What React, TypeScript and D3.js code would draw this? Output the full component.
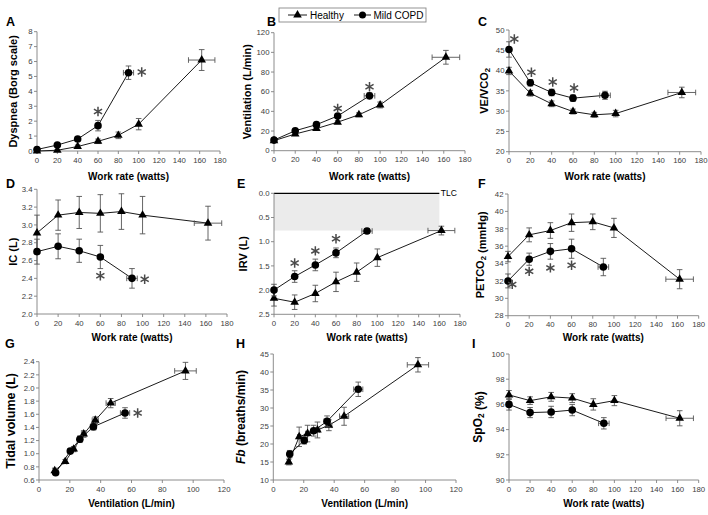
import React from "react";
import * as d3 from "d3";

// ---------------- Data ----------------
const workRateHealthy = [0, 20, 40, 60, 80, 100, 162];
const workRateHealthyErr = [0, 0, 0, 0, 0, 0, 13];
const workRateCOPD = [0, 20, 40, 60, 90];
const workRateCOPDErr = [0, 0, 0, 0, 5];

const workRateTicks = [0, 20, 40, 60, 80, 100, 120, 140, 160, 180];
const ventilationTicks = [0, 20, 40, 60, 80, 100, 120];

// A: Dyspnea (Borg)
const dyspneaTicks = [0, 1, 2, 3, 4, 5, 6, 7, 8];
const dyspneaHealthy = [0, 0.05, 0.3, 0.65, 1.05, 1.8, 6.1];
const dyspneaHealthyErr = [0.05, 0.05, 0.1, 0.15, 0.22, 0.38, 0.7];
const dyspneaCOPD = [0.1, 0.4, 0.8, 1.7, 5.25];
const dyspneaCOPDErr = [0.1, 0.1, 0.15, 0.35, 0.45];
const dyspneaStars: [number, number][] = [[60, 2.65], [103, 5.3]];

// B: Ventilation
const ventTicks = [0, 20, 40, 60, 80, 100, 120];
const ventHealthy = [10.2, 17, 22.5, 29, 36.5, 46.5, 95];
const ventHealthyErr = [1, 1, 1.3, 1.5, 2, 3, 7];
const ventCOPD = [10.8, 20.3, 26.5, 35.3, 55.8];
const ventCOPDErr = [1, 1.2, 1.5, 2, 3];
const ventStars: [number, number][] = [[60, 43], [90, 65]];

// C: VE/VCO2
const vecoTicks = [20, 25, 30, 35, 40, 45, 50];
const vecoHealthy = [39.9, 34.4, 31.8, 29.9, 29.1, 29.4, 34.6];
const vecoHealthyErr = [0.9, 0.7, 0.7, 0.6, 0.6, 0.8, 1.3];
const vecoCOPD = [45.2, 37.0, 34.6, 33.2, 33.9];
const vecoCOPDErr = [1.9, 0.8, 0.8, 0.8, 1.0];
const vecoStars: [number, number][] = [[5, 47.8], [21, 39.6], [41, 37.2], [61, 35.7]];

// D: IC
const icTicks = [2.0, 2.2, 2.4, 2.6, 2.8, 3.0, 3.2, 3.4];
const icHealthy = [2.91, 3.11, 3.14, 3.13, 3.15, 3.11, 3.02];
const icHealthyErr = [0.2, 0.17, 0.18, 0.21, 0.2, 0.21, 0.19];
const icCOPD = [2.7, 2.76, 2.71, 2.64, 2.4];
const icCOPDErr = [0.14, 0.14, 0.13, 0.13, 0.11];
const icStars: [number, number][] = [[60, 2.43], [102, 2.39]];

// E: IRV
const irvTicks = [0.0, 0.5, 1.0, 1.5, 2.0, 2.5];
const irvHealthy = [2.17, 2.25, 2.07, 1.83, 1.63, 1.33, 0.77];
const irvHealthyErr = [0.16, 0.15, 0.17, 0.2, 0.19, 0.18, 0.09];
const irvCOPD = [2.0, 1.72, 1.48, 1.23, 0.78];
const irvCOPDErr = [0.12, 0.12, 0.12, 0.1, 0.05];
const irvStars: [number, number][] = [[20, 1.44], [40, 1.19], [60, 0.94]];
const tlcValue = 0;
const tlcShadeBottom = 0.77;
const tlcEnd = 160;

// F: PETCO2
const petTicks = [28, 30, 32, 34, 36, 38, 40, 42];
const petHealthy = [34.8, 37.3, 37.8, 38.7, 38.8, 38.1, 32.2];
const petHealthyErr = [0.6, 0.8, 0.9, 1.0, 0.9, 1.1, 1.1];
const petCOPD = [32.0, 34.5, 35.4, 35.7, 33.6];
const petCOPDErr = [0.8, 0.7, 0.9, 1.1, 1.0];
const petStars: [number, number][] = [[4, 31.6], [20, 33.1], [40, 33.5], [60, 33.8]];

// G: Tidal volume vs ventilation
const vtTicks = [0.6, 0.8, 1.0, 1.2, 1.4, 1.6, 1.8, 2.0, 2.2, 2.4];
const vtHealthy = [0.74, 0.88, 1.07, 1.3, 1.51, 1.77, 2.26];
const vtHealthyErr = [0.04, 0.03, 0.04, 0.05, 0.05, 0.07, 0.13];
const vtCOPD = [0.71, 1.04, 1.22, 1.41, 1.62];
const vtCOPDErr = [0.03, 0.04, 0.05, 0.05, 0.08];
const vtStars: [number, number][] = [[64, 1.62]];

// H: Breathing frequency vs ventilation
const fbTicks = [10, 15, 20, 25, 30, 35, 40, 45];
const fbHealthy = [15.0, 22.0, 22.9, 23.9, 25.2, 27.7, 42.0];
const fbHealthyErr = [0.8, 2.7, 2.3, 2.2, 1.5, 2.5, 2.0];
const fbCOPD = [17.2, 21.0, 23.7, 26.3, 35.2];
const fbCOPDErr = [1.0, 1.0, 1.5, 1.5, 2.0];

// I: SpO2
const spoTicks = [90, 92, 94, 96, 98, 100];
const spoHealthy = [96.75, 96.3, 96.6, 96.5, 96.0, 96.3, 94.9];
const spoHealthyErr = [0.35, 0.3, 0.35, 0.35, 0.45, 0.4, 0.6];
const spoCOPD = [96.0, 95.35, 95.4, 95.55, 94.5];
const spoCOPDErr = [0.45, 0.4, 0.45, 0.45, 0.45];

// ---------------- Rendering ----------------
type SeriesData = { x: number[]; y: number[]; ex: number[]; ey: number[] };

const FONT = "'Liberation Sans', Arial, sans-serif";
const AXIS_COLOR = "#808080";
const TICK_TEXT = "#404040";
const ERR_COLOR = "#555";
const TICK_FONT = 7.8;

const triPath = d3.symbol(d3.symbolTriangle, 32)()!;
const starPath = d3.symbol(d3.symbolAsterisk, 62)()!;

function Series({
  data,
  xs,
  ys,
  shape,
}: {
  data: SeriesData;
  xs: d3.ScaleLinear<number, number>;
  ys: d3.ScaleLinear<number, number>;
  shape: "tri" | "circle";
}) {
  const pts = data.x.map((xv, i) => ({ x: xs(xv), y: ys(data.y[i]), i }));
  const line = d3
    .line<{ x: number; y: number }>()
    .x((d) => d.x)
    .y((d) => d.y);
  const cap = 2.8;
  return (
    <g>
      <path d={line(pts)!} fill="none" stroke="#000" strokeWidth={0.9} />
      {pts.map((p) => {
        const ey = data.ey[p.i];
        const ex = data.ex[p.i];
        const y1 = ys(data.y[p.i] + ey);
        const y2 = ys(data.y[p.i] - ey);
        const x1 = xs(data.x[p.i] - ex);
        const x2 = xs(data.x[p.i] + ex);
        return (
          <g key={p.i} stroke={ERR_COLOR} strokeWidth={0.9}>
            {ey > 0 && (
              <>
                <line x1={p.x} x2={p.x} y1={y1} y2={y2} />
                <line x1={p.x - cap} x2={p.x + cap} y1={y1} y2={y1} />
                <line x1={p.x - cap} x2={p.x + cap} y1={y2} y2={y2} />
              </>
            )}
            {ex > 0 && (
              <>
                <line x1={x1} x2={x2} y1={p.y} y2={p.y} />
                <line x1={x1} x2={x1} y1={p.y - cap} y2={p.y + cap} />
                <line x1={x2} x2={x2} y1={p.y - cap} y2={p.y + cap} />
              </>
            )}
          </g>
        );
      })}
      {pts.map((p) =>
        shape === "circle" ? (
          <circle key={"m" + p.i} cx={p.x} cy={p.y} r={3.8} fill="#000" />
        ) : (
          <path key={"m" + p.i} d={triPath} transform={`translate(${p.x},${p.y})`} fill="#000" />
        )
      )}
    </g>
  );
}

interface PanelProps {
  letter: string;
  letterPos: [number, number];
  xDomain: [number, number];
  xRange: [number, number];
  yDomain: [number, number];
  yRange: [number, number];
  xTicks: number[];
  yTicks: number[];
  yFormat: (v: number) => string;
  xTitle: string;
  xTitleY: number;
  yTitle: React.ReactNode;
  yTitleX: number;
  yTitleSize: number;
  healthy: SeriesData;
  copd: SeriesData;
  stars?: [number, number][];
  extra?: (xs: d3.ScaleLinear<number, number>, ys: d3.ScaleLinear<number, number>) => React.ReactNode;
}

function Panel(p: PanelProps) {
  const xs = d3.scaleLinear().domain(p.xDomain).range(p.xRange);
  const ys = d3.scaleLinear().domain(p.yDomain).range(p.yRange);
  const top = Math.min(...p.yRange);
  const bottom = Math.max(...p.yRange);
  const x0 = p.xRange[0];
  const cx = (p.xRange[0] + p.xRange[1]) / 2;
  const cy = (top + bottom) / 2;
  return (
    <g>
      <text x={p.letterPos[0]} y={p.letterPos[1]} fontSize={12.5} fontWeight="bold" fill="#000">
        {p.letter}
      </text>
      {p.extra && p.extra(xs, ys)}
      <line x1={x0} x2={x0} y1={top} y2={bottom} stroke={AXIS_COLOR} strokeWidth={0.9} />
      <line x1={x0} x2={p.xRange[1]} y1={bottom} y2={bottom} stroke={AXIS_COLOR} strokeWidth={0.9} />
      {p.yTicks.map((t) => (
        <g key={"y" + t}>
          <line x1={x0 - 3} x2={x0} y1={ys(t)} y2={ys(t)} stroke={AXIS_COLOR} strokeWidth={0.9} />
          <text x={x0 - 4.5} y={ys(t)} dy="0.35em" textAnchor="end" fontSize={TICK_FONT} fill={TICK_TEXT}>
            {p.yFormat(t)}
          </text>
        </g>
      ))}
      {p.xTicks.map((t) => (
        <g key={"x" + t}>
          <line x1={xs(t)} x2={xs(t)} y1={bottom} y2={bottom + 3} stroke={AXIS_COLOR} strokeWidth={0.9} />
          <text x={xs(t)} y={bottom + 11.5} textAnchor="middle" fontSize={TICK_FONT} fill={TICK_TEXT}>
            {t}
          </text>
        </g>
      ))}
      <text x={cx} y={p.xTitleY} textAnchor="middle" fontSize={10} fontWeight="bold" fill="#000">
        {p.xTitle}
      </text>
      <text
        transform={`translate(${p.yTitleX},${cy}) rotate(-90)`}
        textAnchor="middle"
        dy="0.35em"
        fontSize={p.yTitleSize}
        fontWeight="bold"
        fill="#000"
      >
        {p.yTitle}
      </text>
      <Series data={p.healthy} xs={xs} ys={ys} shape="tri" />
      <Series data={p.copd} xs={xs} ys={ys} shape="circle" />
      {(p.stars || []).map((s, i) => (
        <path
          key={"s" + i}
          d={starPath}
          transform={`translate(${xs(s[0])},${ys(s[1])})`}
          stroke="#4a4a4a"
          strokeWidth={1.5}
          fill="none"
        />
      ))}
    </g>
  );
}

const f0 = d3.format("d");
const f1 = d3.format(".1f");

const H = (y: number[], ey: number[]): SeriesData => ({ x: workRateHealthy, y, ex: workRateHealthyErr, ey });
const C = (y: number[], ey: number[]): SeriesData => ({ x: workRateCOPD, y, ex: workRateCOPDErr, ey });
const HV = (y: number[], ey: number[]): SeriesData => ({ x: ventHealthy, y, ex: ventHealthyErr, ey });
const CV = (y: number[], ey: number[]): SeriesData => ({ x: ventCOPD, y, ex: ventCOPDErr, ey });

const sub = (s: string) => (
  <tspan fontSize="0.7em" dy="0.25em">
    {s}
  </tspan>
);

export default function App() {
  const WR = "Work rate (watts)";
  const VL = "Ventilation (L/min)";
  return (
    <svg
      width={708}
      height={515}
      style={{ position: "absolute", left: 0, top: 0, background: "#fff" }}
      fontFamily={FONT}
    >
      <rect width={708} height={515} fill="#fff" />
      <g>
        <rect x={279} y={8} width={147} height={14} fill="#fff" stroke="#888" strokeWidth={0.9} />
        <line x1={288} x2={307} y1={15} y2={15} stroke="#000" strokeWidth={0.9} />
        <path d={triPath} transform="translate(297.5,15)" fill="#000" />
        <text x={310} y={18.6} fontSize={10} fill="#000">
          Healthy
        </text>
        <line x1={354} x2={371} y1={15} y2={15} stroke="#000" strokeWidth={0.9} />
        <circle cx={362.5} cy={15} r={3.5} fill="#000" />
        <text x={373.5} y={18.6} fontSize={10} fill="#000">
          Mild COPD
        </text>
      </g>

      <Panel
        letter="A" letterPos={[6, 26]}
        xDomain={[0, 180]} xRange={[37, 220]}
        yDomain={[0, 8]} yRange={[151, 31.7]}
        xTicks={workRateTicks} yTicks={dyspneaTicks} yFormat={f0}
        xTitle={WR} xTitleY={180}
        yTitle="Dyspnea (Borg scale)" yTitleX={13} yTitleSize={11}
        healthy={H(dyspneaHealthy, dyspneaHealthyErr)}
        copd={C(dyspneaCOPD, dyspneaCOPDErr)}
        stars={dyspneaStars}
      />
      <Panel
        letter="B" letterPos={[267, 26]}
        xDomain={[0, 180]} xRange={[274, 465]}
        yDomain={[0, 120]} yRange={[150.7, 32.7]}
        xTicks={workRateTicks} yTicks={ventTicks} yFormat={f0}
        xTitle={WR} xTitleY={180}
        yTitle={VL} yTitleX={247} yTitleSize={11}
        healthy={H(ventHealthy, ventHealthyErr)}
        copd={C(ventCOPD, ventCOPDErr)}
        stars={ventStars}
      />
      <Panel
        letter="C" letterPos={[478, 26]}
        xDomain={[0, 180]} xRange={[509, 701]}
        yDomain={[20, 50]} yRange={[151.7, 30]}
        xTicks={workRateTicks} yTicks={vecoTicks} yFormat={f0}
        xTitle={WR} xTitleY={180}
        yTitle={<>VE/VCO{sub("2")}</>} yTitleX={484} yTitleSize={11}
        healthy={H(vecoHealthy, vecoHealthyErr)}
        copd={C(vecoCOPD, vecoCOPDErr)}
        stars={vecoStars}
      />

      <Panel
        letter="D" letterPos={[6, 188]}
        xDomain={[0, 180]} xRange={[37, 227]}
        yDomain={[2.0, 3.4]} yRange={[314, 189.3]}
        xTicks={workRateTicks} yTicks={icTicks} yFormat={f1}
        xTitle={WR} xTitleY={341}
        yTitle="IC (L)" yTitleX={13} yTitleSize={11}
        healthy={H(icHealthy, icHealthyErr)}
        copd={C(icCOPD, icCOPDErr)}
        stars={icStars}
      />
      <Panel
        letter="E" letterPos={[237, 188]}
        xDomain={[0, 180]} xRange={[274, 460]}
        yDomain={[0, 2.5]} yRange={[193.3, 314.3]}
        xTicks={workRateTicks} yTicks={irvTicks} yFormat={f1}
        xTitle={WR} xTitleY={341}
        yTitle="IRV (L)" yTitleX={243} yTitleSize={11}
        healthy={H(irvHealthy, irvHealthyErr)}
        copd={C(irvCOPD, irvCOPDErr)}
        stars={irvStars}
        extra={(xs, ys) => (
          <g>
            <rect
              x={xs(0)}
              y={ys(tlcValue)}
              width={xs(tlcEnd) - xs(0)}
              height={ys(tlcShadeBottom) - ys(tlcValue)}
              fill="#ebebeb"
            />
            <line x1={xs(0)} x2={xs(tlcEnd)} y1={ys(tlcValue)} y2={ys(tlcValue)} stroke="#000" strokeWidth={1.3} />
            <text x={xs(tlcEnd) + 1.5} y={ys(tlcValue)} dy="0.35em" fontSize={8.5} fill="#000">
              TLC
            </text>
          </g>
        )}
      />
      <Panel
        letter="F" letterPos={[478, 188]}
        xDomain={[0, 180]} xRange={[508, 698.7]}
        yDomain={[28, 42]} yRange={[315.7, 194]}
        xTicks={workRateTicks} yTicks={petTicks} yFormat={f0}
        xTitle={WR} xTitleY={341}
        yTitle={<>PETCO{sub("2")} (mmHg)</>} yTitleX={480} yTitleSize={11}
        healthy={H(petHealthy, petHealthyErr)}
        copd={C(petCOPD, petCOPDErr)}
        stars={petStars}
      />

      <Panel
        letter="G" letterPos={[5, 348]}
        xDomain={[0, 120]} xRange={[39, 224]}
        yDomain={[0.6, 2.4]} yRange={[480, 361.7]}
        xTicks={ventilationTicks} yTicks={vtTicks} yFormat={f1}
        xTitle={VL} xTitleY={507}
        yTitle="Tidal volume (L)" yTitleX={11} yTitleSize={12.5}
        healthy={HV(vtHealthy, vtHealthyErr)}
        copd={CV(vtCOPD, vtCOPDErr)}
        stars={vtStars}
      />
      <Panel
        letter="H" letterPos={[236, 348]}
        xDomain={[0, 120]} xRange={[273.3, 456]}
        yDomain={[10, 45]} yRange={[480, 354]}
        xTicks={ventilationTicks} yTicks={fbTicks} yFormat={f0}
        xTitle={VL} xTitleY={507}
        yTitle={<><tspan fontStyle="italic">Fb</tspan> (breaths/min)</>} yTitleX={241} yTitleSize={12}
        healthy={HV(fbHealthy, fbHealthyErr)}
        copd={CV(fbCOPD, fbCOPDErr)}
      />
      <Panel
        letter="I" letterPos={[472, 348]}
        xDomain={[0, 180]} xRange={[509, 698.7]}
        yDomain={[90, 100]} yRange={[480, 354]}
        xTicks={workRateTicks} yTicks={spoTicks} yFormat={f0}
        xTitle={WR} xTitleY={507}
        yTitle={<>SpO{sub("2")} (%)</>} yTitleX={478} yTitleSize={12}
        healthy={H(spoHealthy, spoHealthyErr)}
        copd={C(spoCOPD, spoCOPDErr)}
      />
    </svg>
  );
}
